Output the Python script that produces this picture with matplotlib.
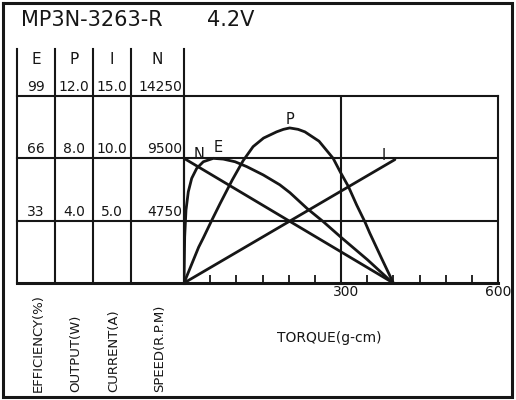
import matplotlib
matplotlib.use("Agg")
import matplotlib.pyplot as plt
from matplotlib.transforms import blended_transform_factory, offset_copy

# ---------------- data ----------------
title_model = "MP3N-3263-R"
title_volt = "4.2V"

col_heads = ["E", "P", "I", "N"]
eff_ticks = [33, 66, 99]
out_ticks = [4.0, 8.0, 12.0]
cur_ticks = [5.0, 10.0, 15.0]
spd_ticks = [4750, 9500, 14250]
axis_names = ["EFFICIENCY(%)", "OUTPUT(W)", "CURRENT(A)", "SPEED(R.P.M)"]
x_label = "TORQUE(g-cm)"
x_major = [300, 600]
x_minor = [50, 100, 150, 200, 250, 350, 400, 450, 500, 550]

# speed N (rpm)
n_torque = [0, 400]
n_speed = [9500, 0]
# current I (A)
i_torque = [0, 403]
i_current = [0, 9.9]
# efficiency E (%)
e_torque = [0, 1.3, 3.8, 8.2, 14.7, 24.3, 36.9, 56, 75, 97.5, 120, 151.5,
            183, 202.5, 235, 266, 300, 351, 399]
e_eff = [0, 24.5, 38.6, 48.3, 55.4, 60.7, 64.2, 66.0, 65.6, 64.2, 61.6, 57.2,
         52.0, 47.8, 39.5, 32.5, 24.2, 12.2, 0]
# output P (W)
p_torque = [0, 28, 37, 52, 69, 92, 113, 132, 152, 177, 190, 202, 218, 231,
            258, 285, 299, 314, 330, 346, 355, 378, 400]
p_out = [0, 2.3, 2.9, 3.95, 5.1, 6.6, 7.85, 8.75, 9.3, 9.7, 9.86, 9.95, 9.86,
         9.7, 9.1, 8.0, 7.1, 6.2, 5.0, 3.9, 3.2, 1.55, 0]

# ---------------- layout ----------------
W, H = 516, 400
PX_L, PX_R, PY_T, PY_B = 184, 498, 96, 283
TAB_X = [17, 55, 93, 131, 184]
TAB_TOP = 49
INK = "#161616"
FONT = "DejaVu Sans"

fig = plt.figure(figsize=(W / 100, H / 100), dpi=100)
fig.patch.set_facecolor("white")

frame = fig.add_axes([0, 0, 1, 1])
frame.set_xlim(0, W)
frame.set_ylim(H, 0)
frame.axis("off")

# outer border
frame.plot([3, 512, 512, 3, 3], [3, 3, 397, 397, 3], color=INK, lw=2.2,
           solid_joinstyle="miter")

# title
frame.text(21, 26, title_model, fontsize=15, family=FONT, color=INK, va="baseline")
frame.text(207, 26, title_volt, fontsize=15, family=FONT, color=INK, va="baseline")

# plot axes
ax = fig.add_axes([PX_L / W, (H - PY_B) / H, (PX_R - PX_L) / W, (PY_B - PY_T) / H])
ax.set_xlim(0, 600)
ax.set_ylim(0, 99)
ax.set_facecolor("none")
for s in ["top", "left", "right"]:
    ax.spines[s].set_linewidth(1.5)
    ax.spines[s].set_color(INK)
ax.spines["bottom"].set_linewidth(2.2)
ax.spines["bottom"].set_color(INK)
ax.set_yticks([])
ax.set_xticks(x_minor)
ax.set_xticklabels([])
ax.tick_params(axis="x", direction="in", length=6, width=1.3, color=INK)
for t in x_major[:-1]:
    ax.axvline(t, color=INK, lw=1.5)
for v in eff_ticks[:-1]:
    ax.axhline(v, color=INK, lw=1.5)

# left table lines (frame pixel coords, consistent with the axes box)
tr_rows = blended_transform_factory(frame.transData, ax.transData)
for x in TAB_X:
    frame.plot([x, x], [TAB_TOP, PY_B], color=INK, lw=1.5)
for v in eff_ticks:
    ax.plot([TAB_X[0], PX_L], [v, v], color=INK, lw=1.5, transform=tr_rows, clip_on=False)
ax.plot([TAB_X[0], PX_L], [0, 0], color=INK, lw=2.2, transform=tr_rows, clip_on=False)

# column heads
centers = [(TAB_X[i] + TAB_X[i + 1]) / 2 for i in range(4)]
for c, h in zip(centers, col_heads):
    frame.text(c, 59, h, fontsize=11, family=FONT, color=INK, ha="center", va="center")

# row labels
lab_tr = offset_copy(tr_rows, fig=fig, x=0, y=2, units="dots")
for v, pv, cv, nv in zip(eff_ticks, out_ticks, cur_ticks, spd_ticks):
    ax.text(centers[0], v, f"{v}", transform=lab_tr, ha="center", va="bottom",
            fontsize=10, family=FONT, color=INK, clip_on=False)
    ax.text(centers[1], v, f"{pv:.1f}", transform=lab_tr, ha="center", va="bottom",
            fontsize=10, family=FONT, color=INK, clip_on=False)
    ax.text(centers[2], v, f"{cv:.1f}", transform=lab_tr, ha="center", va="bottom",
            fontsize=10, family=FONT, color=INK, clip_on=False)
    ax.text(PX_L - 2, v, f"{nv}", transform=lab_tr, ha="right", va="bottom",
            fontsize=10, family=FONT, color=INK, clip_on=False)

# rotated axis names
for c, name in zip(centers, axis_names):
    frame.text(c + 2, 392, name, rotation=90, fontsize=9.5, family=FONT, color=INK,
               ha="center", va="bottom")

# x tick labels
xl_tr = blended_transform_factory(ax.transData, frame.transData)
ax.text(x_major[0], 292, f"{x_major[0]}",
        transform=offset_copy(xl_tr, fig=fig, x=5, y=0, units="dots"),
        ha="center", va="center", fontsize=10, family=FONT, color=INK, clip_on=False)
ax.text(x_major[1], 292, f"{x_major[1]}", transform=xl_tr,
        ha="center", va="center", fontsize=10, family=FONT, color=INK, clip_on=False)
frame.text(329, 338, x_label, fontsize=10, family=FONT, color=INK, ha="center", va="center")

# curves, each on its own scale
axP = ax.twinx(); axP.set_ylim(0, out_ticks[-1]); axP.axis("off")
axI = ax.twinx(); axI.set_ylim(0, cur_ticks[-1]); axI.axis("off")
axN = ax.twinx(); axN.set_ylim(0, spd_ticks[-1]); axN.axis("off")

style = dict(color=INK, lw=2.0, solid_capstyle="round", solid_joinstyle="round")
ax.plot(e_torque, e_eff, **style)
axP.plot(p_torque, p_out, **style)
axI.plot(i_torque, i_current, **style)
axN.plot(n_torque, n_speed, **style)

# curve letters
ax.text(29, 67.8, "N", fontsize=10.5, family=FONT, color=INK, ha="center", va="center")
ax.text(65, 71.5, "E", fontsize=10.5, family=FONT, color=INK, ha="center", va="center")
ax.text(203, 86.3, "P", fontsize=10.5, family=FONT, color=INK, ha="center", va="center")
ax.text(382, 67.5, "I", fontsize=10.5, family=FONT, color=INK, ha="center", va="center")

fig.savefig("out.png", dpi=100, facecolor="white")
